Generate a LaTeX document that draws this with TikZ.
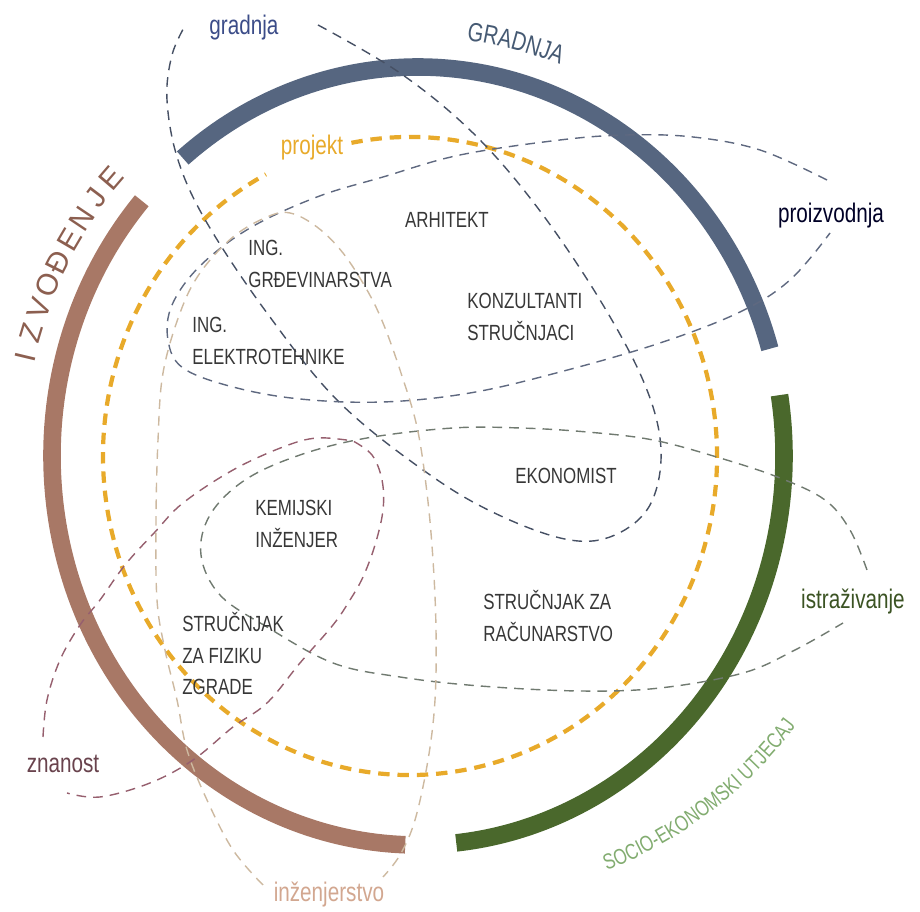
\documentclass[tikz,border=0pt]{standalone}
\usepackage{fontspec}
\setmainfont{Liberation Sans}
\newfontfamily\narrowfont[FakeStretch=0.77]{Liberation Sans}
\usetikzlibrary{decorations.text}

\definecolor{gradcol}{RGB}{86,102,128}
\definecolor{izvcol}{RGB}{168,120,102}
\definecolor{soccol}{RGB}{74,104,44}
\definecolor{projcol}{RGB}{232,170,42}
\definecolor{gradtext}{RGB}{70,90,115}
\definecolor{izvtext}{RGB}{140,95,80}
\definecolor{soctext}{RGB}{130,172,112}
\definecolor{jobcol}{RGB}{55,55,55}
\definecolor{gradloop}{RGB}{70,80,100}
\definecolor{proloop}{RGB}{95,105,128}
\definecolor{istloop}{RGB}{112,122,112}
\definecolor{znaloop}{RGB}{150,95,110}
\definecolor{inzloop}{RGB}{205,185,160}

\begin{document}
\begin{tikzpicture}[x=0.02cm,y=0.02cm,
    ring/.style={line width=10pt},
    projline/.style={line width=2.4pt,dash pattern=on 6.5pt off 4.5pt,color=projcol},
    loopline/.style={line width=0.8pt,dash pattern=on 5.5pt off 4pt},
    job/.style={font=\narrowfont\fontsize{12.5}{18}\selectfont,text=jobcol,align=left,inner sep=0pt},
    tag/.style={font=\narrowfont\fontsize{15.3}{18}\selectfont,inner sep=0pt},
    izvletter/.style={font=\fontsize{17}{17}\selectfont,text=izvtext,inner sep=0pt}]
  \useasboundingbox (0,0) rectangle (920,912);

  % veliki krug
  \begin{scope}[shift={(418,456)}]
    \draw[ring,gradcol] (130:366 and 389) arc[start angle=130,end angle=16,x radius=366,y radius=389];
    \draw[ring,izvcol] (139:366 and 389) arc[start angle=139,end angle=268,x radius=366,y radius=389];
    \draw[ring,soccol] (9:366 and 389) arc[start angle=9,end angle=-84,x radius=366,y radius=389];
    \path[decorate,decoration={text along path,text align=center,
        text={|\narrowfont\fontsize{15}{15}\selectfont\color{gradtext}|GRADNJA}}]
      (90:396 and 419) arc[start angle=90,end angle=62,x radius=396,y radius=419];
    \foreach \ch [count=\i] in {I,Z,V,O,Đ,E,N,J,E}
      \node[izvletter,rotate={80-3.4*\i}] (izv\i) at ({170-3.4*\i}:404 and 427) {\ch};
  \end{scope}
  \path[decorate,decoration={text along path,text align=center,
      text={|\narrowfont\fontsize{12.5}{12.5}\selectfont\color{soctext}|SOCIO-EKONOMSKI UTJECAJ}}]
    (557.1,24.5) arc[start angle=-75,end angle=-30,radius=441];

  % projekt
  \begin{scope}[shift={(410,456)}]
    \draw[projline] (101:307 and 319) arc[start angle=101,end angle=-242,x radius=307,y radius=319];
  \end{scope}

  % petlje
  \draw[loopline,gradloop] plot[smooth,tension=0.6] coordinates {(318,887) (400,839) (473,779)
    (537,705) (600,612) (645,527) (661,462) (650,407) (615,377) (570,372) (503,395) (433,435)
    (340,509) (267,599) (207,689) (178,752) (167,812) (172,857) (186,888)};
  \draw[loopline,proloop] plot[smooth,tension=0.6] coordinates {(827,732) (760,762) (693,775)
    (627,777) (560,772) (460,757) (383,735) (317,715) (250,684) (200,646) (172,607) (168,572)
    (183,544) (233,525) (300,513) (383,510) (470,519) (560,540) (660,569) (740,600) (790,632)
    (830,679)};
  \draw[loopline,istloop] plot[smooth,tension=0.6] coordinates {(867,342) (850,382) (825,412)
    (780,434) (720,454) (653,472) (587,480) (520,484) (453,484) (367,474) (300,457) (245,432)
    (210,397) (201,357) (220,317) (267,285) (333,249) (400,235) (480,226) (580,221) (660,224)
    (743,239) (795,262) (843,289)};
  \draw[loopline,znaloop] plot[smooth,tension=0.6] coordinates {(43,175) (47,212) (60,252)
    (80,287) (100,312) (125,347) (155,380) (183,409) (233,442) (283,465) (317,474) (353,471)}
    -- plot[smooth,tension=0.6] coordinates {(353,471) (372,457) (382,432) (383,402) (375,367)
    (363,335) (350,312) (333,287) (300,249) (267,209) (233,185) (193,152) (150,129) (100,115)
    (67,119)};
  \draw[loopline,inzloop] plot[smooth,tension=0.6] coordinates {(263,27) (233,62) (207,112)
    (187,162) (177,212) (165,262) (157,312) (156,392) (158,472) (163,539) (180,599) (200,639)
    (233,675) (267,695) (290,699) (317,685) (343,659) (367,622) (383,589) (400,542) (417,485)
    (427,419) (433,352) (436,282) (435,212) (428,152) (415,92) (400,57) (383,35)};

  % oznake petlji
  \node[tag,text=gradtext!85!blue] (gradnja) at (244,884) {gradnja};
  \node[tag,text=projcol] (projekt) at (312,764) {projekt};
  \node[tag,text=black!85!blue] (proizvodnja) at (831,696) {proizvodnja};
  \node[tag,text=soccol!80!black] (istrazivanje) at (853,310) {istraživanje};
  \node[tag,text=znaloop!70!black] (znanost) at (63,148) {znanost};
  \node[tag,text=inzloop!90!red] (inzenjerstvo) at (329,17) {inženjerstvo};

  % struke
  \node[job] (arhitekt) at (447,692) {ARHITEKT};
  \node[job,anchor=north west] (gradjevina) at (248,672) {ING.\\GRĐEVINARSTVA};
  \node[job,anchor=north west] (elektro) at (192,595) {ING.\\ELEKTROTEHNIKE};
  \node[job,anchor=north west] (konzultanti) at (467,619) {KONZULTANTI\\STRUČNJACI};
  \node[job] (ekonomist) at (566,436) {EKONOMIST};
  \node[job,anchor=north west] (kemija) at (255,412) {KEMIJSKI\\INŽENJER};
  \node[job,anchor=north west] (fizika) at (182,300) {STRUČNJAK\\ZA FIZIKU\\ZGRADE};
  \node[job,anchor=north west] (racunarstvo) at (483,322) {STRUČNJAK ZA\\RAČUNARSTVO};
\end{tikzpicture}
\end{document}
